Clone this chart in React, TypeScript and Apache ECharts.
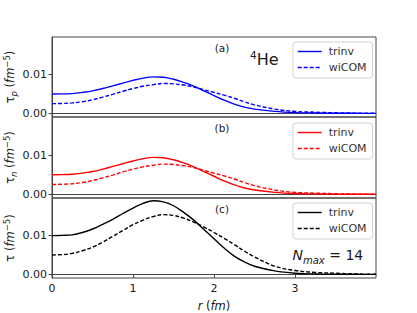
import React, { useEffect, useRef } from "react";
import * as echarts from "echarts";

const R = [0, 0.125, 0.25, 0.375, 0.5, 0.625, 0.75, 0.875, 1.0, 1.125, 1.25, 1.375, 1.5, 1.625, 1.75, 1.875, 2.0, 2.125, 2.25, 2.375, 2.5, 2.75, 3.0, 3.25, 3.5, 3.75, 4.0];
const tauPTrinv = [0.005, 0.00502, 0.0051, 0.0054, 0.0058, 0.0064, 0.0071, 0.0078, 0.0085, 0.0091, 0.0094, 0.0093, 0.0088, 0.008, 0.007, 0.0058, 0.0046, 0.0034, 0.0024, 0.0016, 0.0011, 0.0005, 0.0002, 0.0001, 0.00003, 0.00001, 0];
const tauPWiCOM = [0.0025, 0.00255, 0.0027, 0.003, 0.0035, 0.0042, 0.0049, 0.0057, 0.0064, 0.007, 0.0074, 0.0077, 0.0076, 0.0073, 0.0068, 0.0061, 0.0054, 0.0047, 0.0039, 0.003, 0.0022, 0.0011, 0.0005, 0.0003, 0.00015, 0.00006, 0.00002];
const tauNTrinv = [0.005, 0.00502, 0.0051, 0.0054, 0.0058, 0.0064, 0.0071, 0.0078, 0.0085, 0.0091, 0.0094, 0.0093, 0.0088, 0.008, 0.007, 0.0058, 0.0046, 0.0034, 0.0024, 0.0016, 0.0011, 0.0005, 0.0002, 0.0001, 0.00003, 0.00001, 0];
const tauNWiCOM = [0.0025, 0.00255, 0.0027, 0.003, 0.0035, 0.0042, 0.0049, 0.0057, 0.0064, 0.007, 0.0074, 0.0077, 0.0076, 0.0073, 0.0068, 0.0061, 0.0054, 0.0047, 0.0039, 0.003, 0.0022, 0.0011, 0.0005, 0.0003, 0.00015, 0.00006, 0.00002];
const tauTrinv = [0.01, 0.01005, 0.0102, 0.0108, 0.0117, 0.0129, 0.0142, 0.0157, 0.0171, 0.0183, 0.019, 0.0187, 0.0177, 0.016, 0.014, 0.0116, 0.0092, 0.0068, 0.0047, 0.0032, 0.0021, 0.0009, 0.0003, 0.0001, 0.00003, 0.00001, 0];
const tauWiCOM = [0.005, 0.0051, 0.0054, 0.0061, 0.007, 0.0083, 0.0098, 0.0113, 0.0128, 0.014, 0.0149, 0.0154, 0.0152, 0.0145, 0.0135, 0.0122, 0.0108, 0.0093, 0.0077, 0.006, 0.0045, 0.0021, 0.001, 0.0005, 0.0003, 0.0001, 0.00005];
const yTicks = [0, 0.01];
const xTicks = [0, 1, 2, 3];
const seriesLabels = ["trinv", "wiCOM"];
const panelTags = ["(a)", "(b)", "(c)"];

const FONT = "DejaVu Sans";
const TXT = "#1a1a1a";
const AX = "#444";

export default function App() {
  const ref = useRef<HTMLDivElement>(null);
  useEffect(() => {
    if (!ref.current) return;
    const chart = echarts.init(ref.current, null, { renderer: "svg" });

    const panels = [
      { color: "#0000ff", trinv: tauPTrinv, wicom: tauPWiCOM, sub: "p", key: "a" },
      { color: "#ff0000", trinv: tauNTrinv, wicom: tauNWiCOM, sub: "n", key: "b" },
      { color: "#000000", trinv: tauTrinv, wicom: tauWiCOM, sub: "", key: "c" },
    ];
    const grids = [
      { left: 52, top: 37, width: 324, height: 80 },
      { left: 52, top: 117, width: 324, height: 81 },
      { left: 52, top: 198, width: 324, height: 80 },
    ];
    const legendTops = [42, 123, 203];
    const tagY = [47.7, 127.5, 208.8];

    const nameRich = {
      t: { fontSize: 11.5, fontFamily: FONT, color: TXT, lineHeight: 16 },
      i: { fontSize: 11.5, fontFamily: FONT, color: TXT, lineHeight: 16, fontStyle: "italic" },
      sub: { fontSize: 8.5, fontFamily: FONT, color: TXT, lineHeight: 9, verticalAlign: "bottom", fontStyle: "italic" },
      sup: { fontSize: 8.5, fontFamily: FONT, color: TXT, lineHeight: 8, verticalAlign: "top" },
    };

    const option: any = {
      animation: false,
      backgroundColor: "#fff",
      grid: grids.map((g) => ({
        ...g,
        show: true,
        containLabel: false,
        outerBoundsMode: "none",
        borderColor: AX,
        borderWidth: 1,
        backgroundColor: "transparent",
      })),
      xAxis: grids.map((_, i) => ({
        type: "value",
        gridIndex: i,
        min: 0,
        max: 4,
        splitLine: { show: false },
        axisLine: { show: true, lineStyle: { color: AX, width: 1 } },
        axisTick: { show: i === 2, length: 3.5, lineStyle: { color: AX }, customValues: xTicks },
        axisLabel: {
          show: i === 2,
          customValues: xTicks,
          fontSize: 11,
          fontFamily: FONT,
          color: TXT,
          margin: 5,
          formatter: (v: number) => String(v),
        },
        name: i === 2 ? "{i|r}{t| (}{i|fm}{t|)}" : "",
        nameLocation: "middle",
        nameGap: 20,
        nameMoveOverlap: false,
        nameTextStyle: { rich: nameRich },
      })),
      yAxis: panels.map((p, i) => ({
        type: "value",
        gridIndex: i,
        min: -0.00094,
        max: 0.0197,
        splitLine: { show: false },
        axisLine: { show: true, lineStyle: { color: AX, width: 1 } },
        axisTick: { show: true, length: 3.5, lineStyle: { color: AX }, customValues: yTicks },
        axisLabel: {
          customValues: yTicks,
          fontSize: 11,
          fontFamily: FONT,
          color: TXT,
          margin: 5,
          formatter: (v: number) => v.toFixed(2),
        },
        name: p.sub ? `{t|τ}{sub|${p.sub}}{t| (}{i|fm}{sup|−5}{t|)}` : "{t|τ (}{i|fm}{sup|−5}{t|)}",
        nameLocation: "middle",
        nameGap: 34,
        nameMoveOverlap: false,
        nameTextStyle: { rich: nameRich },
      })),
      legend: panels.map((p, i) => ({
        orient: "vertical",
        left: 293,
        top: legendTops[i],
        padding: [3, 6, 4, 4],
        itemWidth: 24,
        itemHeight: 13,
        itemGap: 3,
        selectedMode: false,
        borderColor: "#d0d0d0",
        borderWidth: 1,
        borderRadius: 3,
        backgroundColor: "rgba(255,255,255,0.85)",
        itemStyle: { opacity: 0 },
        lineStyle: { width: 1.4 },
        data: seriesLabels.map((s) => `${s}|${p.key}`),
        formatter: (n: string) => n.split("|")[0],
        textStyle: { fontSize: 11, fontFamily: FONT, color: "#333", lineHeight: 13, padding: [0, 0, 0, 2] },
      })),
      series: panels.flatMap((p, i) => [
        {
          type: "line",
          name: `${seriesLabels[0]}|${p.key}`,
          xAxisIndex: i,
          yAxisIndex: i,
          data: R.map((r, j) => [r, p.trinv[j]]),
          symbol: "none",
          smooth: 0.4,
          itemStyle: { color: p.color },
          lineStyle: { color: p.color, width: 1.4, type: "solid" },
        },
        {
          type: "line",
          name: `${seriesLabels[1]}|${p.key}`,
          xAxisIndex: i,
          yAxisIndex: i,
          data: R.map((r, j) => [r, p.wicom[j]]),
          symbol: "none",
          smooth: 0.4,
          itemStyle: { color: p.color },
          lineStyle: { color: p.color, width: 1.4, type: [4, 2] },
        },
      ]),
      graphic: [
        ...panelTags.map((t, i) => ({
          type: "text",
          x: 222,
          y: tagY[i],
          style: { text: t, font: `10.5px "${FONT}"`, fill: TXT, align: "center", verticalAlign: "middle" },
        })),
        {
          type: "text",
          x: 250,
          y: 59.5,
          style: {
            text: "{s|4}{b|He}",
            verticalAlign: "middle",
            rich: {
              s: { fontSize: 10.5, fontFamily: FONT, fill: TXT, lineHeight: 10, verticalAlign: "top" },
              b: { fontSize: 16, fontFamily: FONT, fill: TXT, lineHeight: 20 },
            },
          },
        },
        {
          type: "text",
          x: 292.5,
          y: 255,
          style: {
            text: "{n|N}{s|max}{t| = 14}",
            verticalAlign: "middle",
            rich: {
              n: { fontSize: 14, fontFamily: FONT, fill: TXT, lineHeight: 20, fontStyle: "italic" },
              s: { fontSize: 10, fontFamily: FONT, fill: TXT, lineHeight: 12, verticalAlign: "bottom", fontStyle: "italic" },
              t: { fontSize: 14, fontFamily: FONT, fill: TXT, lineHeight: 20 },
            },
          },
        },
      ],
    };
    chart.setOption(option);
    return () => chart.dispose();
  }, []);
  return <div ref={ref} style={{ position: "fixed", left: 0, top: 0, width: 417, height: 313 }} />;
}
